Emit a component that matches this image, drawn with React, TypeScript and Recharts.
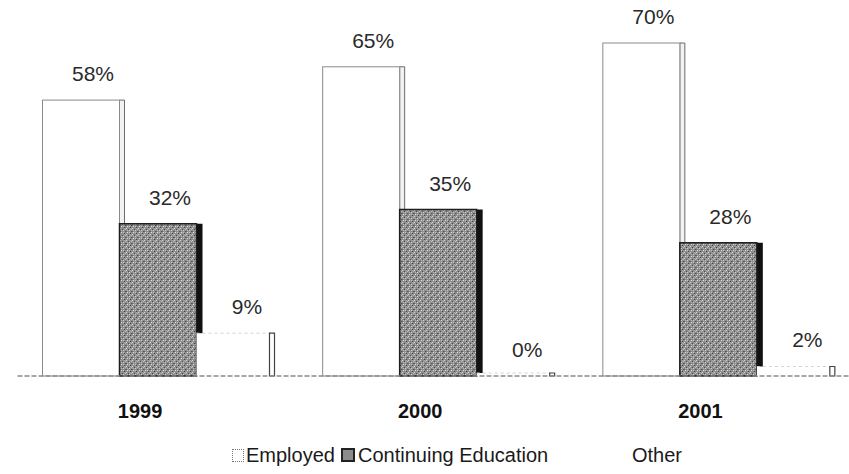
import React from 'react';
import { BarChart, Bar, XAxis, YAxis, Legend, LabelList } from 'recharts';

const years = ['1999', '2000', '2001'];
const employed = [58, 65, 70];
const continuingEducation = [32, 35, 28];
const other = [9, 0, 2];

const data = years.map((year, i) => ({
  year,
  employed: employed[i],
  continuing: continuingEducation[i],
  other: other[i],
}));

const FONT = '"Liberation Sans", Arial, sans-serif';

// white box with a light right-hand side face
const EmployedShape = (p: any) => {
  const { x, y, width, height } = p;
  const bottom = y + height;
  return (
    <g>
      <polygon
        points={`${x + width},${y} ${x + width + 5},${y} ${x + width + 5},${bottom} ${x + width},${bottom}`}
        fill="#f2f2f2"
        stroke="#6b6b6b"
        strokeWidth={1}
      />
      <rect x={x} y={y} width={width} height={height} fill="#fff" stroke="#8a8a8a" strokeWidth={1} />
    </g>
  );
};

// speckled grey box with a black side face
const ContinuingShape = (p: any) => {
  const { x, y, width, height } = p;
  const bottom = y + height;
  return (
    <g>
      <polygon
        points={`${x + width},${y} ${x + width + 6},${y} ${x + width + 6},${bottom} ${x + width},${bottom}`}
        fill="#111"
      />
      <rect x={x} y={y} width={width} height={height} fill="url(#speckle)" stroke="#1c1c1c" strokeWidth={1.5} />
    </g>
  );
};

// mostly invisible white box, only its side edge reads
const OtherShape = (p: any) => {
  const { x, y, width, height } = p;
  const bottom = y + height;
  const top = Math.min(y, bottom - 3);
  return (
    <g>
      <rect x={x} y={top} width={width} height={bottom - top} fill="#fff" />
      <line x1={x} y1={top} x2={x + width} y2={top} stroke="#d2d2d2" strokeWidth={1} strokeDasharray="3 3" />
      <polygon
        points={`${x + width - 4},${top} ${x + width + 1},${top} ${x + width + 1},${bottom} ${x + width - 4},${bottom}`}
        fill="#fff"
        stroke="#444"
        strokeWidth={1.2}
      />
    </g>
  );
};

const ValueLabel = (p: any) => {
  const { x, y, width, value } = p;
  return (
    <text x={x + width / 2 + 12} y={y - 19} textAnchor="middle" fontFamily={FONT} fontSize={21} fill="#2a2a2a">
      {value}%
    </text>
  );
};

const YearTick = (p: any) => {
  const { x, y, payload } = p;
  return (
    <text x={x - 17.5} y={y + 34} textAnchor="middle" fontFamily={FONT} fontWeight="bold" fontSize={20} fill="#111">
      {payload.value}
    </text>
  );
};

const LegendBox = () => (
  <div style={{ position: 'relative', width: 849, height: 30, fontFamily: FONT, fontSize: 20, color: '#1a1a1a', lineHeight: '30px' }}>
    <span style={{ position: 'absolute', left: 232, top: 9, width: 10, height: 11, border: '1px dotted #777', background: '#fff' }} />
    <span style={{ position: 'absolute', left: 246, top: 0 }}>Employed</span>
    <span style={{ position: 'absolute', left: 341, top: 8, width: 10, height: 10, border: '2px solid #222', background: '#8c8c8c' }} />
    <span style={{ position: 'absolute', left: 358, top: 0 }}>Continuing Education</span>
    <span style={{ position: 'absolute', left: 614, top: 9, width: 11, height: 11, background: '#fff' }} />
    <span style={{ position: 'absolute', left: 632, top: 0 }}>Other</span>
  </div>
);

export default function App() {
  return (
    <div style={{ position: 'absolute', left: 0, top: 0, width: 849, height: 474, overflow: 'hidden', background: '#fff' }}>
      <BarChart
        width={858}
        height={474}
        data={data}
        margin={{ top: 43, right: 0, left: 17.5, bottom: 4 }}
        barSize={77}
        barGap={0}
      >
        <defs>
          <pattern id="speckle" x="0" y="0" width="6" height="6" patternUnits="userSpaceOnUse">
            <rect width="6" height="6" fill="#8e8e8e" />
            <rect x="0" y="0" width="1" height="1" fill="#d6d6d6" />
            <rect x="3" y="2" width="1" height="1" fill="#cfcfcf" />
            <rect x="1" y="4" width="1" height="1" fill="#e0e0e0" />
            <rect x="5" y="1" width="1" height="1" fill="#bdbdbd" />
            <rect x="2" y="1" width="1" height="1" fill="#4a4a4a" />
            <rect x="5" y="3" width="1" height="1" fill="#555" />
            <rect x="4" y="5" width="1" height="1" fill="#3e3e3e" />
            <rect x="0" y="3" width="1" height="1" fill="#666" />
            <rect x="1" y="2" width="1" height="1" fill="#b3b3b3" />
            <rect x="4" y="0" width="1" height="1" fill="#aaa" />
            <rect x="3" y="4" width="1" height="1" fill="#c4c4c4" />
          </pattern>
        </defs>
        <XAxis
          dataKey="year"
          height={64}
          tickLine={false}
          axisLine={{ stroke: '#8a8a8a', strokeWidth: 1.5, strokeDasharray: '5 2' }}
          tick={<YearTick />}
          interval={0}
        />
        <YAxis hide domain={[0, 70]} />
        <Legend verticalAlign="bottom" height={30} wrapperStyle={{ left: 0, width: 849 }} content={() => <LegendBox />} />
        <Bar dataKey="employed" name="Employed" shape={<EmployedShape />} isAnimationActive={false}>
          <LabelList dataKey="employed" content={<ValueLabel />} />
        </Bar>
        <Bar dataKey="continuing" name="Continuing Education" shape={<ContinuingShape />} isAnimationActive={false}>
          <LabelList dataKey="continuing" content={<ValueLabel />} />
        </Bar>
        <Bar dataKey="other" name="Other" shape={<OtherShape />} isAnimationActive={false}>
          <LabelList dataKey="other" content={<ValueLabel />} />
        </Bar>
      </BarChart>
    </div>
  );
}
